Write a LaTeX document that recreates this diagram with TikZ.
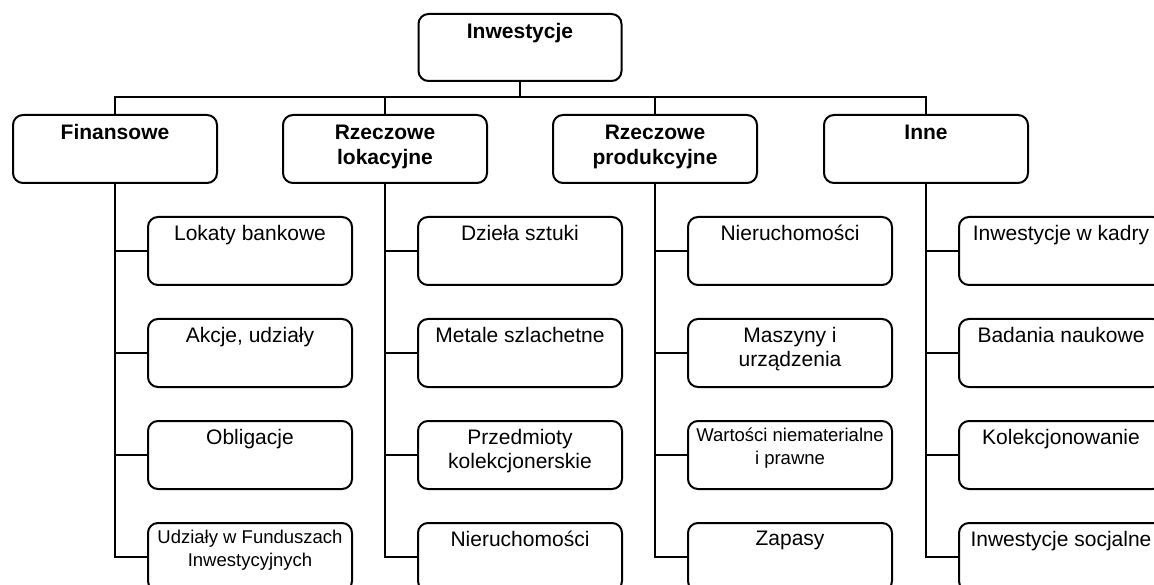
\documentclass[tikz,border=0pt]{standalone}
\usepackage{fontspec}
\setmainfont{Liberation Sans}
\begin{document}
\begin{tikzpicture}[x=1pt,y=-1pt,
  box/.style={draw, line width=2pt, rounded corners=10pt, minimum width=204pt, minimum height=68pt, inner sep=0pt},
  topbox/.style={box, minimum width=203pt, minimum height=67pt},
  lbl/.style={anchor=north, inner sep=0pt, align=center, font=\fontsize{21}{24}\selectfont},
  head/.style={anchor=north, inner sep=0pt, align=center, font=\fontsize{21}{25.5}\selectfont\bfseries},
  small/.style={anchor=north, inner sep=0pt, align=center, font=\fontsize{18.5}{22.5}\selectfont},
  conn/.style={line width=2.6pt, line join=miter}]
\useasboundingbox (0,0) rectangle (1154,585);
\clip (0,0) rectangle (1154,585);
% top
\node[topbox] (inw) at (520,47.5) {};
\node[head] (inwt) at ([yshift=-10pt]inw.north) {Inwestycje};
% level 1
\node[box] (fin) at (115,149) {};
\node[box] (lok) at (385,149) {};
\node[box] (prod) at (655,149) {};
\node[box] (inne) at (926,149) {};
\node[head] (fint) at ([yshift=-10.5pt]fin.north) {Finansowe};
\node[head] (lokt) at ([yshift=-10.5pt]lok.north) {Rzeczowe\\lokacyjne};
\node[head] (prodt) at ([yshift=-10.5pt]prod.north) {Rzeczowe\\produkcyjne};
\node[head] (innet) at ([yshift=-10.5pt]inne.north) {Inne};
% children boxes
\foreach \p/\x in {fin/115, lok/385, prod/655, inne/926} {
  \foreach \r/\y in {1/251, 2/353, 3/455, 4/557} {
    \node[box] (\p\r) at (\x+135,\y) {};
  }
}
% children texts
\node[lbl] (fin1t) at ([yshift=-9pt]fin1.north) {Lokaty bankowe};
\node[lbl] (fin2t) at ([yshift=-9pt]fin2.north) {Akcje, udziały};
\node[lbl] (fin3t) at ([yshift=-9pt]fin3.north) {Obligacje};
\node[small] (fin4t) at ([yshift=-8pt]fin4.north) {Udziały w Funduszach\\Inwestycyjnych};
\node[lbl] (lok1t) at ([yshift=-9pt]lok1.north) {Dzieła sztuki};
\node[lbl] (lok2t) at ([yshift=-9pt]lok2.north) {Metale szlachetne};
\node[lbl] (lok3t) at ([yshift=-9pt]lok3.north) {Przedmioty\\kolekcjonerskie};
\node[lbl] (lok4t) at ([yshift=-9pt]lok4.north) {Nieruchomości};
\node[lbl] (prod1t) at ([yshift=-9pt]prod1.north) {Nieruchomości};
\node[lbl] (prod2t) at ([yshift=-9pt]prod2.north) {Maszyny i\\urządzenia};
\node[small] (prod3t) at ([yshift=-8pt]prod3.north) {Wartości niematerialne\\i prawne};
\node[lbl] (prod4t) at ([yshift=-9pt]prod4.north) {Zapasy};
\node[lbl] (inne1t) at ([yshift=-9pt]inne1.north) {Inwestycje w kadry};
\node[lbl] (inne2t) at ([yshift=-9pt]inne2.north) {Badania naukowe};
\node[lbl] (inne3t) at ([yshift=-9pt]inne3.north) {Kolekcjonowanie};
\node[lbl] (inne4t) at ([yshift=-9pt]inne4.north) {Inwestycje socjalne};
% connectors
\coordinate (bar) at (520,97);
\draw[conn] (inw.south) -- (bar);
\draw[conn] (fin.north) |- (bar) -| (inne.north);
\draw[conn] (lok.north) -- (lok.north |- bar);
\draw[conn] (prod.north) -- (prod.north |- bar);
\foreach \p in {fin, lok, prod, inne} {
  \draw[conn] (\p.south) |- (\p4.west);
  \foreach \r in {1,2,3} {
    \draw[conn] (\p.south |- \p\r.west) -- (\p\r.west);
  }
}
\end{tikzpicture}
\end{document}
